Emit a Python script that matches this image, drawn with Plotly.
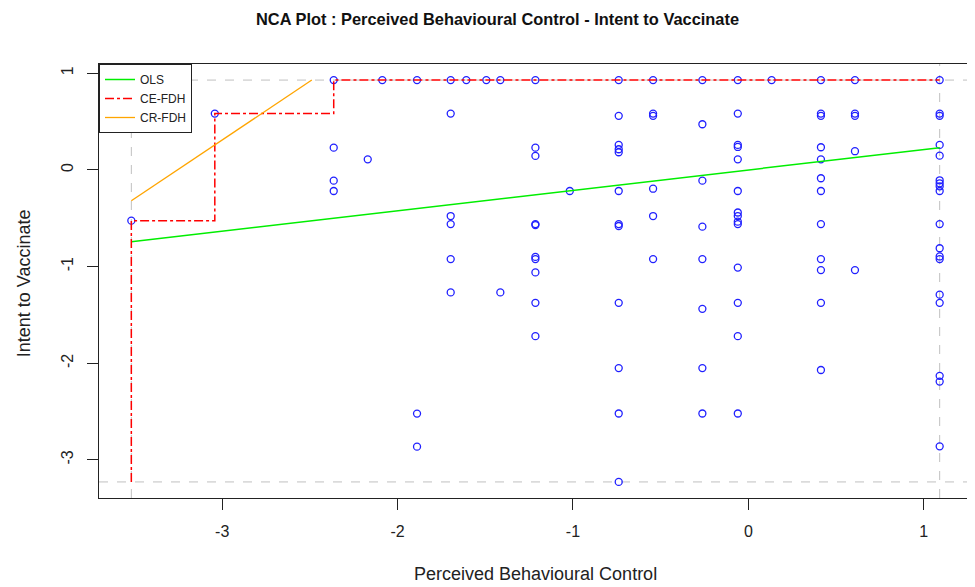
import numpy as np
import plotly.graph_objects as go

# ---------------- data ----------------
pbc_cols = [-3.518, -3.042, -2.364, -2.170, -2.087, -1.889, -1.697, -1.608,
            -1.494, -1.414, -1.214, -1.018, -0.739, -0.543, -0.262, -0.060,
            0.133, 0.414, 0.608, 1.091]
intent_by_col = [
    [-0.525],
    [0.583],
    [0.93, 0.231, -0.111, -0.218],
    [0.11],
    [0.93],
    [0.93, -2.521, -2.863],
    [0.93, 0.583, -0.477, -0.56, -0.922, -1.267],
    [0.93],
    [0.93],
    [0.93, -1.267],
    [0.93, 0.231, 0.145, -0.56, -0.57, -0.90, -0.922, -1.06, -1.375, -1.72],
    [-0.218],
    [0.93, 0.56, 0.259, 0.214, 0.183, -0.218, -0.56, -0.58, -1.375, -2.05, -2.52, -3.228],
    [0.93, 0.583, 0.56, -0.194, -0.477, -0.922],
    [0.93, 0.473, -0.111, -0.587, -0.922, -1.437, -2.05, -2.52],
    [0.93, 0.583, 0.259, 0.238, 0.11, -0.218, -0.44, -0.477, -0.535, -0.56, -1.01, -1.375, -1.72, -2.52],
    [0.93],
    [0.93, 0.583, 0.56, 0.235, 0.11, -0.086, -0.218, -0.56, -0.922, -1.036, -1.375, -2.07],
    [0.93, 0.583, 0.56, 0.194, -1.036],
    [0.93, 0.583, 0.56, 0.259, 0.148, -0.107, -0.138, -0.169, -0.218, -0.56, -0.81,
     -0.895, -0.922, -1.29, -1.375, -2.13, -2.19, -2.86],
]
ols_intercept = 0.0
ols_slope = 0.211
cr_intercept = 3.949
cr_slope = 1.213

x_ticks = [-3, -2, -1, 0, 1]
x_tick_labels = ["-3", "-2", "-1", "0", "1"]
y_ticks = [-3, -2, -1, 0, 1]
y_tick_labels = ["-3", "-2", "-1", "0", "1"]

# ---------------- build ----------------
xs, ys = [], []
for xv, col in zip(pbc_cols, intent_by_col):
    for yv in col:
        xs.append(xv)
        ys.append(yv)
xs = np.array(xs)
ys = np.array(ys)
xmin, xmax = xs.min(), xs.max()
ymin, ymax = ys.min(), ys.max()
xpad = 0.04 * (xmax - xmin)
ypad = 0.04 * (ymax - ymin)

# CE-FDH step envelope
order = np.argsort(xs, kind="stable")
ce_x, ce_y = [xmin], [ymin]
cur = -np.inf
for i in order:
    if ys[i] > cur:
        ce_x += [xs[i], xs[i]]
        ce_y += [cur if np.isfinite(cur) else ymin, ys[i]]
        cur = ys[i]
ce_x.append(xmax)
ce_y.append(cur)

# OLS
ols_x = [xmin, xmax]
ols_y = [ols_intercept + ols_slope * v for v in ols_x]

# CR-FDH (clipped at the ceiling)
cr_xend = min(xmax, (ymax - cr_intercept) / cr_slope)
cr_x = [xmin, cr_xend]
cr_y = [cr_intercept + cr_slope * v for v in cr_x]

FONT = "Liberation Sans, Arial, sans-serif"
fig = go.Figure()

fig.add_trace(go.Scatter(x=xs, y=ys, mode="markers", showlegend=False,
                         marker=dict(symbol="circle-open", size=7, color="#2020ff",
                                     line=dict(width=1.3, color="#2020ff"))))
fig.add_trace(go.Scatter(x=ols_x, y=ols_y, mode="lines", name="OLS",
                         line=dict(color="#00ee00", width=1.5)))
fig.add_trace(go.Scatter(x=ce_x, y=ce_y, mode="lines", name="CE-FDH",
                         line=dict(color="#ff0000", width=1.5, dash="dashdot")))
fig.add_trace(go.Scatter(x=cr_x, y=cr_y, mode="lines", name="CR-FDH",
                         line=dict(color="#ffa500", width=1.3)))

gray = dict(color="#c0c0c0", width=1, dash="dash")
fig.add_hline(y=ymax, line=gray, layer="below")
fig.add_hline(y=ymin, line=gray, layer="below")
fig.add_vline(x=xmin, line=gray, layer="below")
fig.add_vline(x=xmax, line=gray, layer="below")

axis_common = dict(showgrid=False, zeroline=False, showline=True, mirror=True,
                   linecolor="#222", linewidth=1, ticks="outside", ticklen=11,
                   tickwidth=1, tickcolor="#222",
                   tickfont=dict(family=FONT, size=16, color="#222"))
fig.update_xaxes(range=[xmin - xpad, xmax + xpad], tickvals=x_ticks,
                 ticktext=x_tick_labels, ticklabelstandoff=8, **axis_common)
fig.update_yaxes(range=[ymin - ypad, ymax + ypad], tickvals=y_ticks,
                 ticktext=y_tick_labels, tickangle=-90, ticklabelstandoff=8,
                 **axis_common)

# page body adds an 8px offset; figure is sized so the plot lands where the reference has it
fig.update_layout(
    width=967, height=579,
    margin=dict(l=91, r=3, t=56, b=89),
    plot_bgcolor="white", paper_bgcolor="white",
    font=dict(family=FONT, color="#222"),
    title=dict(text="<b>NCA Plot : Perceived Behavioural Control - Intent to Vaccinate</b>",
               x=0.4565, xref="paper", xanchor="center", y=0.981, yanchor="middle",
               font=dict(family=FONT, size=16.4, color="#111")),
    legend=dict(x=0, y=1, xanchor="left", yanchor="top", bordercolor="#222",
                borderwidth=1, bgcolor="white", font=dict(family=FONT, size=12),
                tracegroupgap=0),
    annotations=[
        dict(text="Perceived Behavioural Control", xref="paper", yref="paper",
             x=0.5, y=-0.176, xanchor="center", yanchor="middle", showarrow=False,
             font=dict(family=FONT, size=18, color="#222")),
        dict(text="Intent to Vaccinate", xref="paper", yref="paper",
             x=-0.0859, y=0.495, xanchor="center", yanchor="middle", showarrow=False,
             textangle=-90, font=dict(family=FONT, size=18, color="#222")),
    ],
)

fig.write_html("out.html")
